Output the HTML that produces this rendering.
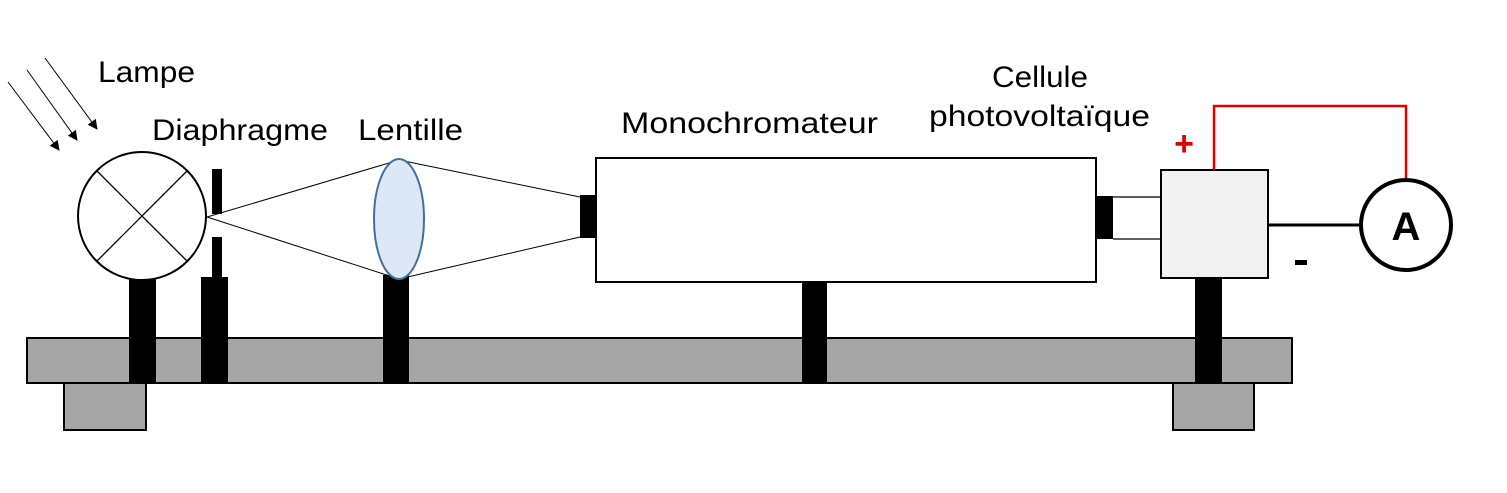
<!DOCTYPE html>
<html><head><meta charset="utf-8"><style>html,body{margin:0;padding:0;background:#fff}svg{display:block}</style></head>
<body>
<svg width="1507" height="493" viewBox="0 0 1507 493" xmlns="http://www.w3.org/2000/svg" font-family="Liberation Sans, sans-serif">
<defs><marker id="ah" markerWidth="10" markerHeight="10" refX="9" refY="5" orient="auto" markerUnits="userSpaceOnUse"><path d="M0,0 L10,5 L0,10 z" fill="#000"/></marker></defs>
<g font-size="30" lengthAdjust="spacingAndGlyphs">
<text x="98" y="82" textLength="97" lengthAdjust="spacingAndGlyphs">Lampe</text>
<text x="152" y="140" textLength="176" lengthAdjust="spacingAndGlyphs">Diaphragme</text>
<text x="358" y="140" textLength="105" lengthAdjust="spacingAndGlyphs">Lentille</text>
<text x="621" y="133" textLength="257" lengthAdjust="spacingAndGlyphs">Monochromateur</text>
<text x="992" y="87" textLength="96" lengthAdjust="spacingAndGlyphs">Cellule</text>
<text x="929" y="126" textLength="221" lengthAdjust="spacingAndGlyphs">photovoltaïque</text>
</g>
<line x1="8" y1="82" x2="59" y2="150" stroke="#000" stroke-width="1" marker-end="url(#ah)"/>
<line x1="27" y1="70" x2="77" y2="140" stroke="#000" stroke-width="1" marker-end="url(#ah)"/>
<line x1="45" y1="58" x2="97" y2="129" stroke="#000" stroke-width="1" marker-end="url(#ah)"/>
<rect x="64" y="383" width="82" height="47" fill="#a6a6a6" stroke="#000" stroke-width="2"/>
<rect x="1173" y="383" width="81" height="47" fill="#a6a6a6" stroke="#000" stroke-width="2"/>
<rect x="27" y="338" width="1265" height="45" fill="#a6a6a6" stroke="#000" stroke-width="2"/>
<rect x="129" y="279" width="27" height="104" fill="#000"/>
<rect x="201" y="277" width="27" height="106" fill="#000"/>
<rect x="212" y="169" width="10" height="45" fill="#000"/>
<rect x="212" y="237" width="10" height="42" fill="#000"/>
<rect x="383" y="275" width="26" height="108" fill="#000"/>
<rect x="802" y="282" width="25" height="101" fill="#000"/>
<rect x="1195" y="278" width="27" height="105" fill="#000"/>
<circle cx="142" cy="216" r="64" fill="#fff" stroke="#000" stroke-width="2"/>
<line x1="97" y1="171" x2="187" y2="261" stroke="#000" stroke-width="1.3"/>
<line x1="187" y1="171" x2="97" y2="261" stroke="#000" stroke-width="1.3"/>
<polyline points="207,217 399,160 580,197" fill="none" stroke="#000" stroke-width="1"/>
<polyline points="207,217 399,279 580,237" fill="none" stroke="#000" stroke-width="1"/>
<ellipse cx="399" cy="219" rx="25" ry="60" fill="#dce8f5" stroke="#41719c" stroke-width="2"/>
<rect x="580" y="195" width="16" height="43" fill="#000"/>
<rect x="596" y="158" width="500" height="124" fill="#fff" stroke="#000" stroke-width="2"/>
<rect x="1096" y="196" width="17" height="43" fill="#000"/>
<line x1="1113" y1="197" x2="1160" y2="197" stroke="#000" stroke-width="1.3"/>
<line x1="1113" y1="239" x2="1160" y2="239" stroke="#000" stroke-width="1.3"/>
<rect x="1161" y="170" width="107" height="108" fill="#f2f2f2" stroke="#000" stroke-width="2"/>
<polyline points="1214,170 1214,106 1406,106 1406,180" fill="none" stroke="#e00000" stroke-width="2.5"/>
<line x1="1268" y1="225" x2="1361" y2="225" stroke="#000" stroke-width="3"/>
<circle cx="1406" cy="225" r="45" fill="#fff" stroke="#000" stroke-width="4"/>
<text x="1406" y="240" font-size="40" font-weight="bold" text-anchor="middle">A</text>
<text x="1184" y="155" font-size="34" font-weight="bold" fill="#e00000" text-anchor="middle">+</text>
<rect x="1295" y="260" width="12" height="5" fill="#000"/>
</svg>
</body></html>
